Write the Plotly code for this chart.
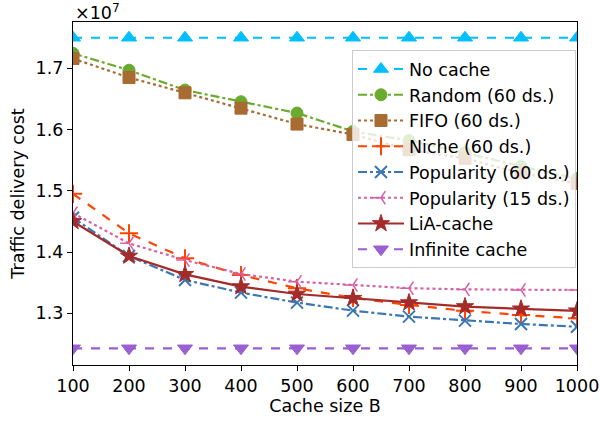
import plotly.graph_objects as go

cache_sizes = [100, 200, 300, 400, 500, 600, 700, 800, 900, 1000]

# values in units of 1e7
no_cache = [1.750] * 10
random_60 = [1.7245, 1.697, 1.6645, 1.6455, 1.627, 1.597, 1.582, 1.562, 1.540, 1.520]
fifo_60 = [1.716, 1.685, 1.660, 1.635, 1.609, 1.592, 1.567, 1.553, 1.529, 1.512]
niche_60 = [1.495, 1.4306, 1.3897, 1.3624, 1.3409, 1.325, 1.3136, 1.304, 1.297, 1.2918]
popularity_60 = [1.456, 1.3935, 1.3544, 1.3337, 1.3174, 1.3043, 1.2945, 1.288, 1.2825, 1.278]
popularity_15 = [1.4636, 1.4142, 1.3869, 1.3641, 1.3516, 1.3462, 1.3409, 1.339, 1.338, 1.338]
lia_cache = [1.450, 1.3935, 1.3636, 1.3435, 1.3315, 1.3245, 1.3174, 1.311, 1.3072, 1.304]
infinite_cache = [1.2428] * 10

y_ticks = [1.3, 1.4, 1.5, 1.6, 1.7]
x_ticks = [100, 200, 300, 400, 500, 600, 700, 800, 900, 1000]
SCALE = 1e7

series = [
    ("No cache", no_cache, "#00BFFF", "dash", "triangle-up", 13, 1),
    ("Random (60 ds.)", random_60, "#6AAA2E", "dashdot", "circle", 12, 1),
    ("FIFO (60 ds.)", fifo_60, "#A86B32", "dot", "square", 12, 1),
    ("Niche (60 ds.)", niche_60, "#FF4500", "dash", "cross-thin-open", 13, 2),
    ("Popularity (60 ds.)", popularity_60, "#3A76B4", "dashdot", "x-thin-open", 12, 2),
    ("Popularity (15 ds.)", popularity_15, "#D65FA6", "dot", "y-left-open", 11, 1.5),
    ("LiA-cache", lia_cache, "#A52A2A", "solid", "star", 13, 1),
    ("Infinite cache", infinite_cache, "#9A5FD0", "dash", "triangle-down", 13, 1),
]

FS = 17.5

fig = go.Figure()
for i, (name, vals, color, dash, sym, size, mlw) in enumerate(series):
    fig.add_trace(go.Scatter(
        x=cache_sizes,
        y=[v * SCALE for v in vals],
        name=name,
        mode="lines+markers",
        line=dict(color=color, width=2.2, dash=dash),
        marker=dict(symbol=sym, size=size, color=color,
                    line=dict(color=color, width=mlw)),
    ))

axis_common = dict(
    showline=True, linecolor="black", linewidth=1.2, mirror=True,
    ticks="outside", ticklen=5, tickcolor="black", tickwidth=1,
    showgrid=False, zeroline=False,
    tickfont=dict(family="DejaVu Sans", size=FS, color="black"),
)

fig.update_layout(
    width=600, height=426,
    margin=dict(l=73, r=23, t=22, b=61, autoexpand=False),
    plot_bgcolor="white", paper_bgcolor="white",
    font=dict(family="DejaVu Sans", size=FS, color="black"),
    xaxis=dict(range=[100, 1000], tickvals=x_ticks,
               title=dict(text="Cache size B", font=dict(size=FS), standoff=4),
               **axis_common),
    yaxis=dict(range=[1.2155 * SCALE, 1.7757 * SCALE],
               tickvals=[t * SCALE for t in y_ticks],
               ticktext=[f"{t:.1f}" for t in y_ticks],
               title=dict(text="Traffic delivery cost", font=dict(size=FS), standoff=6),
               **axis_common),
    legend=dict(x=0.998, xanchor="right", y=0.918, yanchor="top",
                bgcolor="rgba(255,255,255,0.8)", bordercolor="#CCCCCC",
                borderwidth=1, font=dict(size=FS), itemwidth=46),
    showlegend=True,
    annotations=[dict(text="×10<sup>7</sup>", xref="paper", yref="paper",
                      x=0, y=1.0, xanchor="left", yanchor="bottom",
                      showarrow=False, font=dict(size=FS), yshift=-3)],
)

fig.write_html("out.html")
